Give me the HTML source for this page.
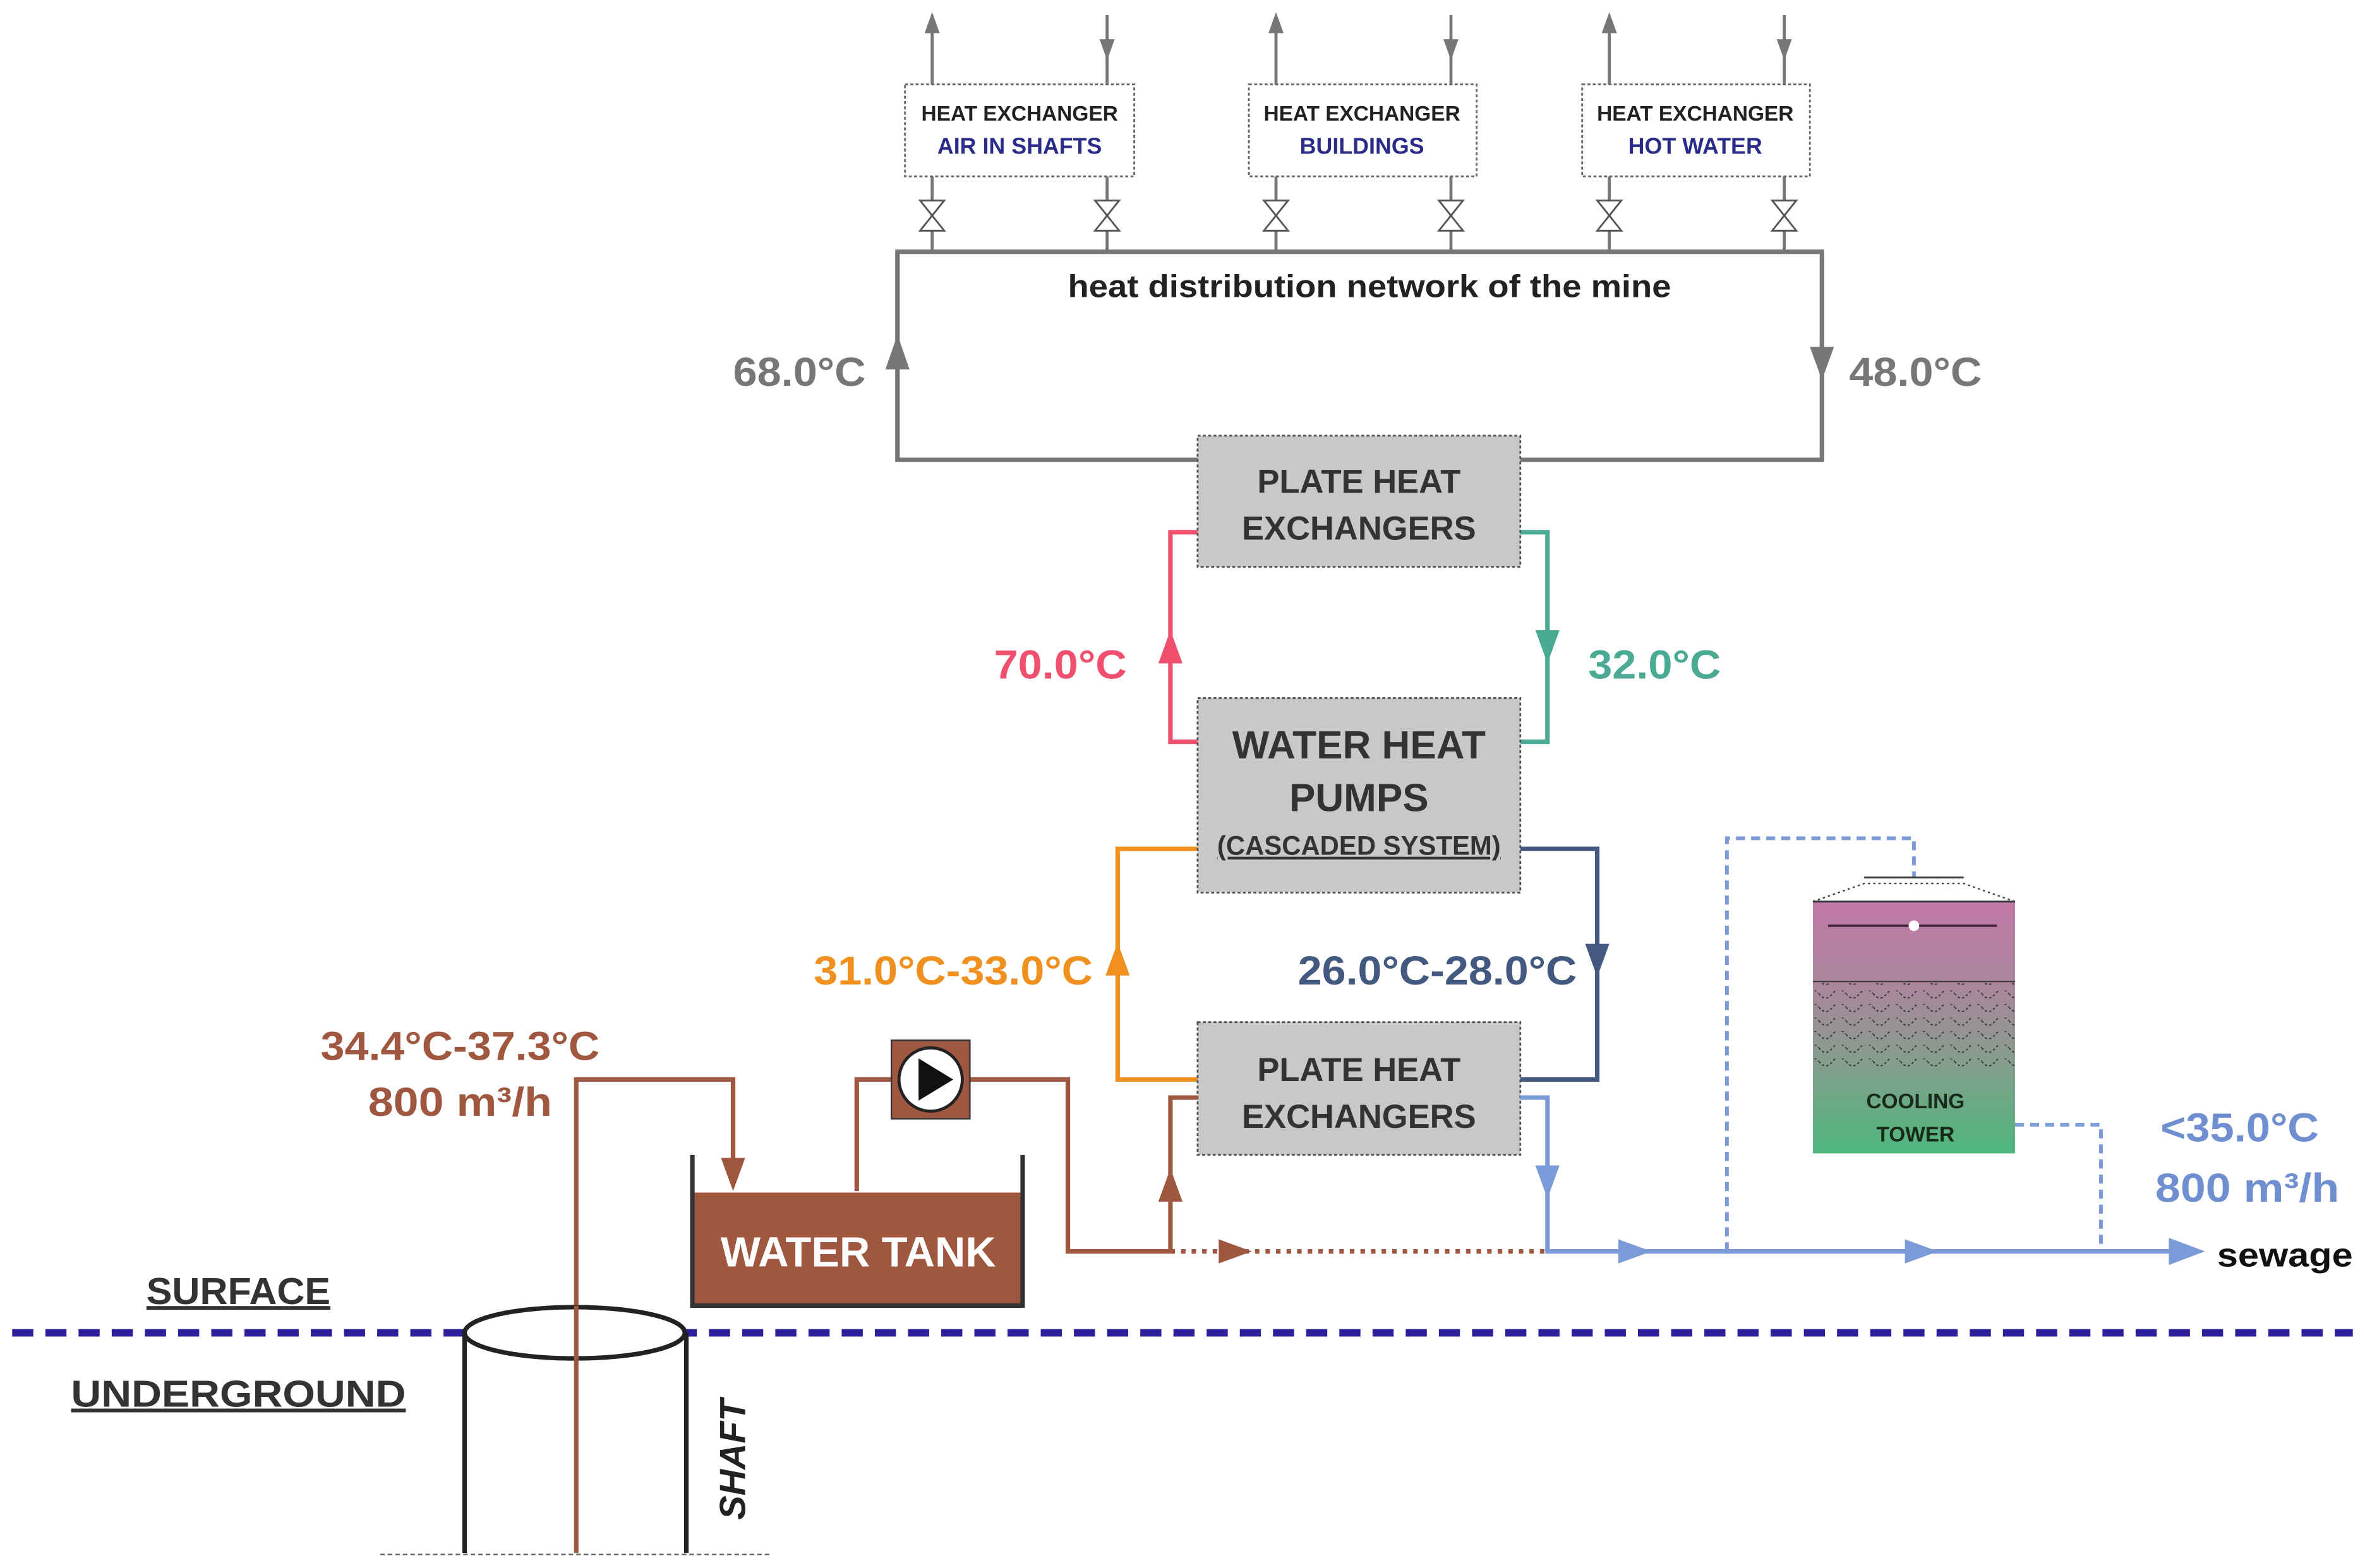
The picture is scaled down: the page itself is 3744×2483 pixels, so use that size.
<!DOCTYPE html>
<html><head><meta charset="utf-8"><style>
html,body{margin:0;padding:0;background:#fff;}
svg{display:block;}
text{font-family:"Liberation Sans",sans-serif;font-weight:bold;}
</style></head><body>
<svg width="3744" height="2483" viewBox="0 0 1568 1040" xmlns="http://www.w3.org/2000/svg">
<defs>
<linearGradient id="tg" x1="0" y1="0" x2="0" y2="1">
<stop offset="0" stop-color="#c27aa8"/><stop offset="0.35" stop-color="#a9879c"/><stop offset="0.6" stop-color="#8a9a8e"/><stop offset="1" stop-color="#4db87c"/>
</linearGradient>
<pattern id="wave" width="18" height="9" patternUnits="userSpaceOnUse">
<path d="M0,2 Q4.5,8 9,2 Q13.5,-3 18,2" fill="none" stroke="#333" stroke-width="0.8" stroke-dasharray="1.5 1.5"/>
</pattern>
</defs>
<rect width="1568" height="1040" fill="#fff"/>

<g stroke="#777" stroke-width="2" fill="none">
<line x1="618" y1="14" x2="618" y2="167"/><line x1="734" y1="10" x2="734" y2="167"/>
<line x1="846" y1="14" x2="846" y2="167"/><line x1="962" y1="10" x2="962" y2="167"/>
<line x1="1067" y1="14" x2="1067" y2="167"/><line x1="1183" y1="10" x2="1183" y2="167"/>
</g>
<g fill="#777">
<polygon points="618,8 613,22 623,22"/><polygon points="734,40 729,26 739,26"/>
<polygon points="846,8 841,22 851,22"/><polygon points="962,40 957,26 967,26"/>
<polygon points="1067,8 1062,22 1072,22"/><polygon points="1183,40 1178,26 1188,26"/>
</g>
<g fill="#fff" stroke="#666" stroke-width="1.2" stroke-dasharray="2 1.5">
<rect x="600" y="56" width="152" height="61"/><rect x="828" y="56" width="151" height="61"/><rect x="1049" y="56" width="151" height="61"/>
</g>
<g font-size="14" text-anchor="middle">
<text x="676" y="80" fill="#222">HEAT EXCHANGER</text><text x="676" y="102" fill="#2b2b8a" font-size="15">AIR IN SHAFTS</text>
<text x="903" y="80" fill="#222">HEAT EXCHANGER</text><text x="903" y="102" fill="#2b2b8a" font-size="15">BUILDINGS</text>
<text x="1124" y="80" fill="#222">HEAT EXCHANGER</text><text x="1124" y="102" fill="#2b2b8a" font-size="15">HOT WATER</text>
</g>
<g fill="#fff" stroke="#555" stroke-width="1.2">
<polygon points="610,133 626,133 610,153 626,153"/><polygon points="726,133 742,133 726,153 742,153"/>
<polygon points="838,133 854,133 838,153 854,153"/><polygon points="954,133 970,133 954,153 970,153"/>
<polygon points="1059,133 1075,133 1059,153 1075,153"/><polygon points="1175,133 1191,133 1175,153 1191,153"/>
</g>

<rect x="595" y="167" width="613" height="138" fill="none" stroke="#777" stroke-width="3"/>
<polygon points="595,222 587,245 603,245" fill="#777"/>
<polygon points="1208,252 1200,230 1216,230" fill="#777"/>
<text x="908" y="197" font-size="21" text-anchor="middle" fill="#222" textLength="400" lengthAdjust="spacingAndGlyphs">heat distribution network of the mine</text>
<text x="530" y="256" font-size="27" text-anchor="middle" fill="#777" textLength="88" lengthAdjust="spacingAndGlyphs">68.0°C</text>
<text x="1270" y="256" font-size="27" text-anchor="middle" fill="#777" textLength="88" lengthAdjust="spacingAndGlyphs">48.0°C</text>

<polyline points="794,353 776,353 776,492 794,492" fill="none" stroke="#f0506e" stroke-width="3"/>
<polygon points="776,418 768,440 784,440" fill="#f0506e"/>
<text x="703" y="450" font-size="27" text-anchor="middle" fill="#f0506e" textLength="88" lengthAdjust="spacingAndGlyphs">70.0°C</text>
<polyline points="1008,353 1026,353 1026,492 1008,492" fill="none" stroke="#4aaa94" stroke-width="3"/>
<polygon points="1026,440 1018,418 1034,418" fill="#4aaa94"/>
<text x="1097" y="450" font-size="27" text-anchor="middle" fill="#4aaa94" textLength="88" lengthAdjust="spacingAndGlyphs">32.0°C</text>

<polyline points="794,563 741,563 741,716 794,716" fill="none" stroke="#f0901e" stroke-width="3"/>
<polygon points="741,625 733,647 749,647" fill="#f0901e"/>
<text x="632" y="653" font-size="27" text-anchor="middle" fill="#f0901e" textLength="185" lengthAdjust="spacingAndGlyphs">31.0°C-33.0°C</text>
<polyline points="1008,563 1059,563 1059,716 1008,716" fill="none" stroke="#44597f" stroke-width="3"/>
<polygon points="1059,648 1051,626 1067,626" fill="#44597f"/>
<text x="953" y="653" font-size="27" text-anchor="middle" fill="#44597f" textLength="185" lengthAdjust="spacingAndGlyphs">26.0°C-28.0°C</text>

<g fill="#c8c8c8" stroke="#555" stroke-width="1.2" stroke-dasharray="2 1.5">
<rect x="794" y="289" width="214" height="87"/><rect x="794" y="463" width="214" height="129"/><rect x="794" y="678" width="214" height="88"/>
</g>
<g text-anchor="middle" fill="#333">
<text x="901" y="327" font-size="22">PLATE HEAT</text><text x="901" y="358" font-size="22">EXCHANGERS</text>
<text x="901" y="503" font-size="26">WATER HEAT</text><text x="901" y="538" font-size="26">PUMPS</text>
<text x="901" y="567" font-size="18" text-decoration="underline" textLength="188" lengthAdjust="spacingAndGlyphs">(CASCADED SYSTEM)</text>
<text x="901" y="717" font-size="22">PLATE HEAT</text><text x="901" y="748" font-size="22">EXCHANGERS</text>
</g>

<g stroke="#a0573f" stroke-width="3" fill="none">
<polyline points="382,1030 382,716 486,716 486,775"/>
<polyline points="568,790 568,716 591,716"/>
<polyline points="643,716 708,716 708,830 776,830"/>
<polyline points="794,728 776,728 776,830"/>
<line x1="776" y1="830" x2="1026" y2="830" stroke-dasharray="3 4"/>
</g>
<polygon points="486,790 478,768 494,768" fill="#a0573f"/>
<polygon points="776,775 768,797 784,797" fill="#a0573f"/>
<polygon points="830,830 808,822 808,838" fill="#a0573f"/>
<rect x="591" y="690" width="52" height="52" fill="#a0573f" stroke="#333" stroke-width="1"/>
<circle cx="617" cy="716" r="21" fill="#fff" stroke="#222" stroke-width="2"/>
<polygon points="609,702 609,730 632,716" fill="#111"/>
<text x="305" y="703" font-size="27" text-anchor="middle" fill="#a0573f" textLength="185" lengthAdjust="spacingAndGlyphs">34.4°C-37.3°C</text>
<text x="305" y="740" font-size="27" text-anchor="middle" fill="#a0573f" textLength="122" lengthAdjust="spacingAndGlyphs">800 m³/h</text>

<rect x="459" y="791" width="219" height="75" fill="#a0573f"/>
<polyline points="459,766 459,866 678,866 678,766" fill="none" stroke="#333" stroke-width="3"/>
<text x="569" y="840" font-size="28" text-anchor="middle" fill="#fff">WATER TANK</text>

<g stroke="#7b9ad8" stroke-width="3" fill="none">
<polyline points="1008,728 1026,728 1026,830 1450,830"/>
</g>
<polygon points="1026,795 1018,773 1034,773" fill="#7b9ad8"/>
<polygon points="1095,830 1073,822 1073,838" fill="#7b9ad8"/>
<polygon points="1285,830 1263,822 1263,838" fill="#7b9ad8"/>
<polygon points="1462,830 1438,821 1438,839" fill="#7b9ad8"/>
<g stroke="#7b9ad8" stroke-width="2.5" fill="none" stroke-dasharray="6 4">
<polyline points="1145,830 1145,556 1269,556 1269,582"/>
<polyline points="1336,746 1393,746 1393,830"/>
</g>
<text x="1515" y="840" font-size="22" fill="#111" text-anchor="middle" textLength="90" lengthAdjust="spacingAndGlyphs">sewage</text>
<text x="1485" y="757" font-size="27" text-anchor="middle" fill="#6f8fd0" textLength="105" lengthAdjust="spacingAndGlyphs">&lt;35.0°C</text>
<text x="1490" y="797" font-size="27" text-anchor="middle" fill="#6f8fd0" textLength="122" lengthAdjust="spacingAndGlyphs">800 m³/h</text>

<line x1="1236" y1="582" x2="1302" y2="582" stroke="#333" stroke-width="1.2"/>
<polyline points="1202,598 1236,586 1302,586 1336,598" fill="none" stroke="#444" stroke-width="1" stroke-dasharray="1.5 2"/>
<rect x="1202" y="598" width="134" height="167" fill="url(#tg)"/>
<line x1="1202" y1="598" x2="1336" y2="598" stroke="#333" stroke-width="1.2"/>
<line x1="1212" y1="614" x2="1324" y2="614" stroke="#3a2030" stroke-width="1.5"/>
<circle cx="1269" cy="614" r="3.5" fill="#fff"/>
<line x1="1202" y1="651" x2="1336" y2="651" stroke="#333" stroke-width="0.8"/>
<rect x="1202" y="652" width="134" height="58" fill="url(#wave)"/>
<text x="1270" y="735" font-size="14" text-anchor="middle" fill="#1a2a1a">COOLING</text>
<text x="1270" y="757" font-size="14" text-anchor="middle" fill="#1a2a1a">TOWER</text>

<line x1="8" y1="884" x2="1560" y2="884" stroke="#2e1f9a" stroke-width="5" stroke-dasharray="14 8"/>
<text x="158" y="865" font-size="25" text-anchor="middle" fill="#333" text-decoration="underline" textLength="122" lengthAdjust="spacingAndGlyphs">SURFACE</text>
<text x="158" y="933" font-size="25" text-anchor="middle" fill="#333" text-decoration="underline" textLength="222" lengthAdjust="spacingAndGlyphs">UNDERGROUND</text>

<rect x="308" y="884" width="147" height="146" fill="#fff"/>
<line x1="308" y1="884" x2="308" y2="1030" stroke="#222" stroke-width="3"/>
<line x1="455" y1="884" x2="455" y2="1030" stroke="#222" stroke-width="3"/>
<ellipse cx="381" cy="884" rx="73" ry="17" fill="#fff" stroke="#222" stroke-width="3"/>
<line x1="382" y1="866" x2="382" y2="1030" stroke="#a0573f" stroke-width="3"/>
<line x1="252" y1="1031" x2="512" y2="1031" stroke="#666" stroke-width="1" stroke-dasharray="3 2"/>
<text transform="translate(494,968) rotate(-90)" font-size="24" font-style="italic" text-anchor="middle" fill="#222">SHAFT</text>
</svg>
</body></html>
